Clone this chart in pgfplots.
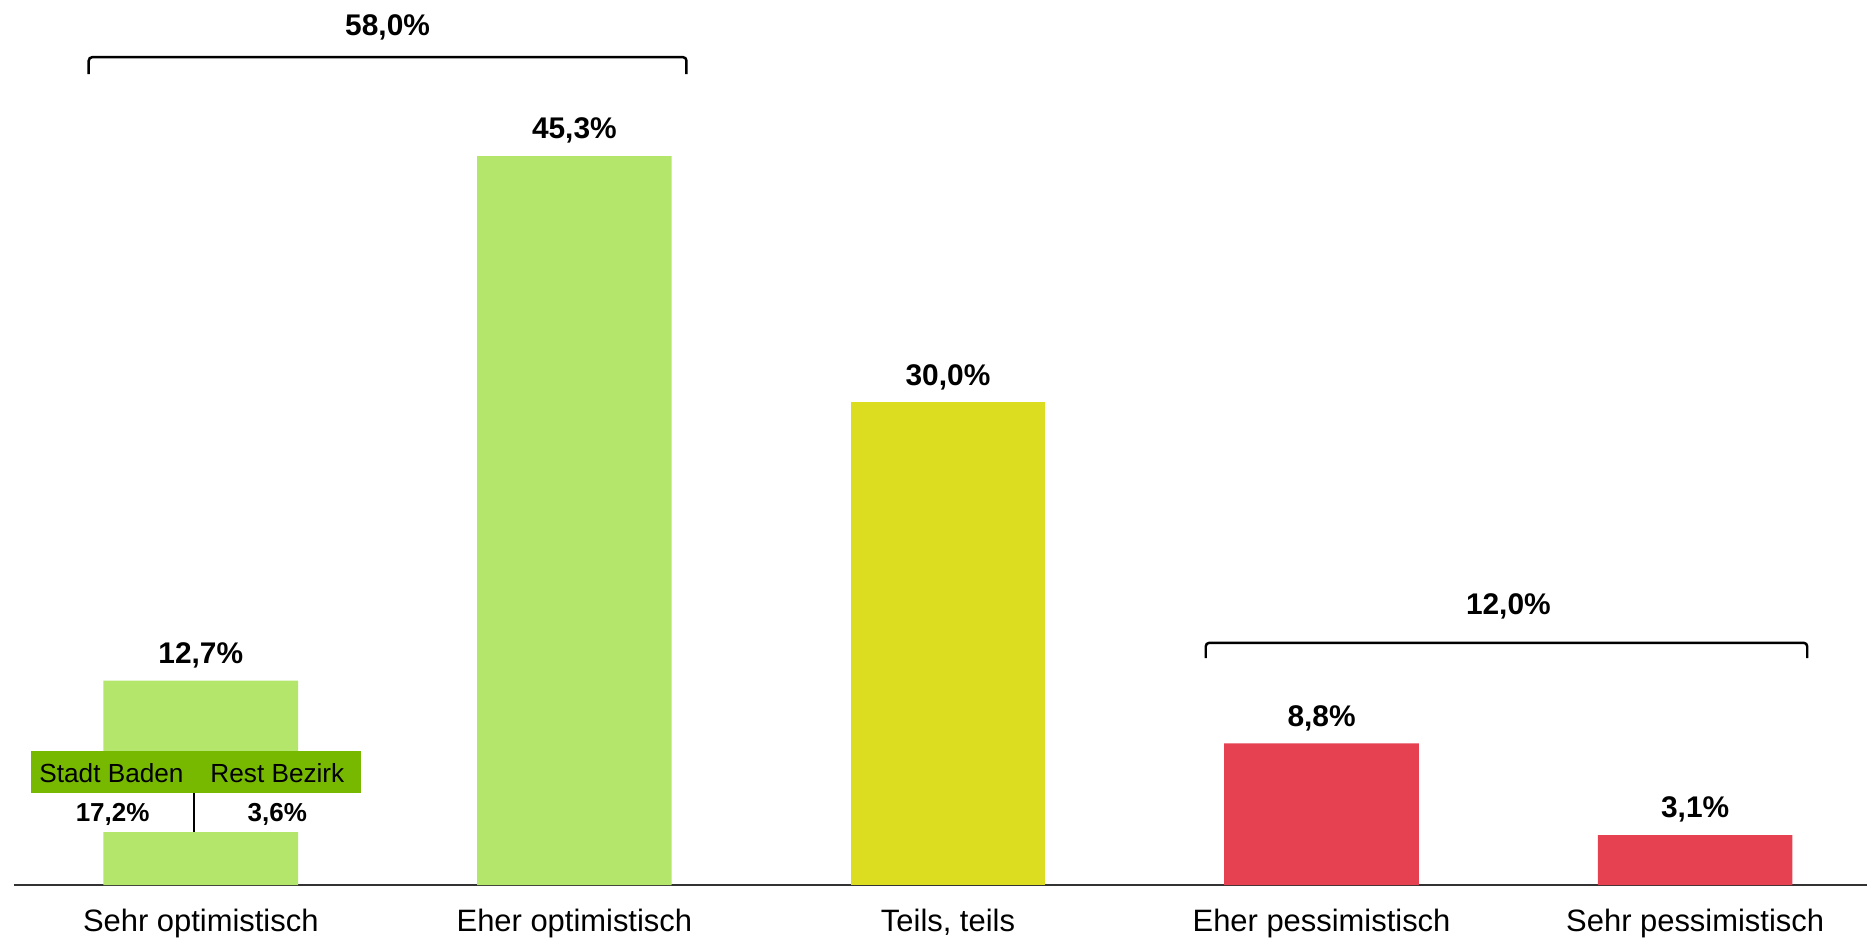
\documentclass[border=0pt]{standalone}
\usepackage{pgfplots}
\pgfplotsset{compat=1.18}
\usepackage{fontspec}
\setmainfont{Liberation Sans}
\definecolor{optgreen}{HTML}{B3E66B}
\definecolor{neutral}{HTML}{DCDC20}
\definecolor{pessred}{HTML}{E54150}
\definecolor{boxgreen}{HTML}{76B900}

\begin{document}
\begin{tikzpicture}
\useasboundingbox (0,0) rectangle (18.67cm,9.40cm);
\begin{axis}[
  at={(1.4mm,5.5mm)}, anchor=south west,
  scale only axis, width=18.53cm, height=8.85cm,
  xmin=-0.5, xmax=4.46, ymin=0, ymax=55,
  axis x line*=bottom, axis y line=none,
  x axis line style={black!80, line width=0.5pt, -},
  xtick={0,...,4},
  xticklabels={Sehr optimistisch, Eher optimistisch, {Teils, teils}, Eher pessimistisch, Sehr pessimistisch},
  major tick length=0pt,
  xticklabel style={font=\fontsize{8.8}{10}\selectfont, yshift=-3.4pt},
  clip=false,
  /pgf/number format/use comma,
  /pgf/number format/fixed,
  /pgf/number format/fixed zerofill,
  /pgf/number format/precision=1,
  /pgf/number format/assume math mode=true,
  bars/.style={ybar, bar width=0.521, bar shift=0pt, draw=none,
    nodes near coords={\pgfmathprintnumber{\pgfplotspointmeta}\%},
    every node near coord/.append style={font=\fontsize{8.5}{10}\selectfont\bfseries,
      anchor=south, inner sep=0pt, yshift=3.4pt, text=black}},
]
\addplot[bars, fill=optgreen] coordinates {(0,12.7) (1,45.3)};
\addplot[bars, fill=neutral] coordinates {(2,30.0)};
\addplot[bars, fill=pessred] coordinates {(3,8.8) (4,3.1)};

% Klammern
\addplot[black, line width=0.7pt, rounded corners=1pt] coordinates {(-0.3,50.4) (-0.3,51.45) (1.3,51.45) (1.3,50.4)};
\addplot[black, line width=0.7pt, rounded corners=1pt] coordinates {(2.69,14.1) (2.69,15.05) (4.30,15.05) (4.30,14.1)};
\node[font=\fontsize{8.5}{10}\selectfont\bfseries] at (axis cs:0.5,53.3) {58,0\%};
\node[font=\fontsize{8.5}{10}\selectfont\bfseries] at (axis cs:3.5,17.3) {12,0\%};

% Aufteilung Sehr optimistisch
\fill[boxgreen] (axis cs:-0.455,5.72) rectangle (axis cs:0.428,8.3);
\fill[white] (axis cs:-0.27,3.29) rectangle (axis cs:0.27,5.72);
\draw[black, line width=0.6pt] (axis cs:-0.019,3.29) -- (axis cs:-0.019,5.72);
\node[font=\fontsize{7.45}{9}\selectfont] at (axis cs:-0.239,6.96) {Stadt Baden};
\node[font=\fontsize{7.45}{9}\selectfont] at (axis cs:0.205,6.96) {Rest Bezirk};
\node[font=\fontsize{7.4}{9}\selectfont\bfseries] at (axis cs:-0.236,4.41) {17,2\%};
\node[font=\fontsize{7.4}{9}\selectfont\bfseries] at (axis cs:0.205,4.41) {3,6\%};
\end{axis}
\end{tikzpicture}
\end{document}
